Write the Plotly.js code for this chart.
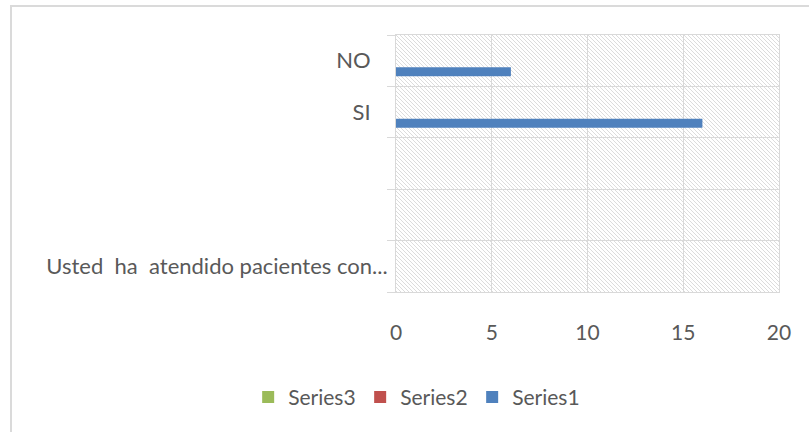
<!DOCTYPE html>
<html>
<head>
<meta charset="utf-8">
<script src="https://cdn.plot.ly/plotly-3.0.1.min.js"></script>
<style>
  html, body { margin: 0; padding: 0; background: #ffffff; }
  #wrap { position: relative; width: 809px; height: 432px; overflow: hidden; }
  #chart { position: absolute; left: 0; top: 0; width: 809px; height: 432px; }
  #frame { position: absolute; left: 10px; top: 5px; width: 820px; height: 440px;
           border-top: 2px solid #dadada; border-left: 2px solid #dadada; pointer-events: none; }
</style>
</head>
<body>
<div id="wrap">
  <div id="chart"></div>
  <div id="frame"></div>
</div>
<script>
// Categories, listed from bottom to top as in the source chart
const categories = ["Usted  ha  atendido pacientes con...", "", "", "SI", "NO"];
const seriesNames = ["Series1", "Series2", "Series3"];
const series1 = [null, null, null, 16, 6];
const series2 = [null, null, null, null, null];
const series3 = [null, null, null, null, null];
const xTicks = [0, 5, 10, 15, 20];

const colors = ["#4f81bd", "#c0504d", "#9bbb59"];
const positions = categories.map((c, i) => i);
const tickText = categories.map(c => {
  const t = c.replace(/  /g, "\u00a0 ");
  return (t === "SI" || t === "NO") ? t + "\u00a0\u00a0\u00a0" : t;
});

const values = [series1, series2, series3];
const traces = values.map((v, k) => ({
  type: "bar",
  orientation: "h",
  name: seriesNames[k],
  y: positions,
  x: v,
  marker: { color: colors[k] },
  hoverinfo: "skip"
}));

const hatch = '<svg xmlns="http://www.w3.org/2000/svg" width="383" height="257">' +
  '<defs><pattern id="p" width="4" height="4" patternUnits="userSpaceOnUse">' +
  '<path d="M0,0 L4,4 M-1,3 L1,5 M3,-1 L5,1" stroke="#dcdcdc" stroke-width="1"/></pattern></defs>' +
  '<rect width="383" height="257" fill="url(#p)"/></svg>';
const hatchUri = "data:image/svg+xml;base64," + btoa(hatch);

const font = { family: "Lato, 'Open Sans', sans-serif", size: 21, color: "#595959" };
const yFont = { family: "Lato, 'Open Sans', sans-serif", size: 22, color: "#595959" };

const layout = {
  width: 809,
  height: 432,
  margin: { l: 396, r: 30, t: 35, b: 140, pad: 0, autoexpand: false },
  paper_bgcolor: "rgba(0,0,0,0)",
  plot_bgcolor: "#ffffff",
  font: font,
  barmode: "group",
  bargap: 0.353,
  bargroupgap: 0.18,
  showlegend: true,
  legend: {
    orientation: "h",
    traceorder: "reversed",
    x: -0.386, xanchor: "left",
    y: -0.41, yanchor: "middle",
    font: font,
    itemwidth: 30,
    entrywidth: 67,
    entrywidthmode: "pixels"
  },
  xaxis: {
    range: [0, 20],
    tickvals: xTicks,
    ticktext: xTicks.map(String),
    showgrid: true,
    gridcolor: "#d9d9d9",
    gridwidth: 1,
    zeroline: false,
    showline: true,
    linecolor: "#d9d9d9",
    linewidth: 1,
    mirror: true,
    ticks: "",
    ticklabelstandoff: 22,
    tickfont: font,
    automargin: false,
    fixedrange: true
  },
  yaxis: {
    range: [-0.5, 4.5],
    tickvals: positions,
    ticktext: tickText,
    showgrid: false,
    zeroline: false,
    showline: true,
    linecolor: "#d9d9d9",
    linewidth: 1,
    mirror: true,
    ticks: "",
    ticklabelstandoff: 3,
    tickfont: yFont,
    automargin: false,
    minor: {
      tickvals: [-0.5, 0.5, 1.5, 2.5, 3.5, 4.5],
      ticks: "outside",
      ticklen: 8,
      tickcolor: "#d9d9d9",
      tickwidth: 1,
      showgrid: true,
      gridcolor: "#d9d9d9",
      gridwidth: 1
    },
    fixedrange: true
  },
  images: [{
    source: hatchUri,
    xref: "paper", yref: "paper",
    x: 0, y: 1, sizex: 1, sizey: 1,
    xanchor: "left", yanchor: "top",
    sizing: "stretch",
    layer: "below"
  }]
};

Plotly.newPlot("chart", traces, layout, { staticPlot: true, displayModeBar: false });
</script>
</body>
</html>
